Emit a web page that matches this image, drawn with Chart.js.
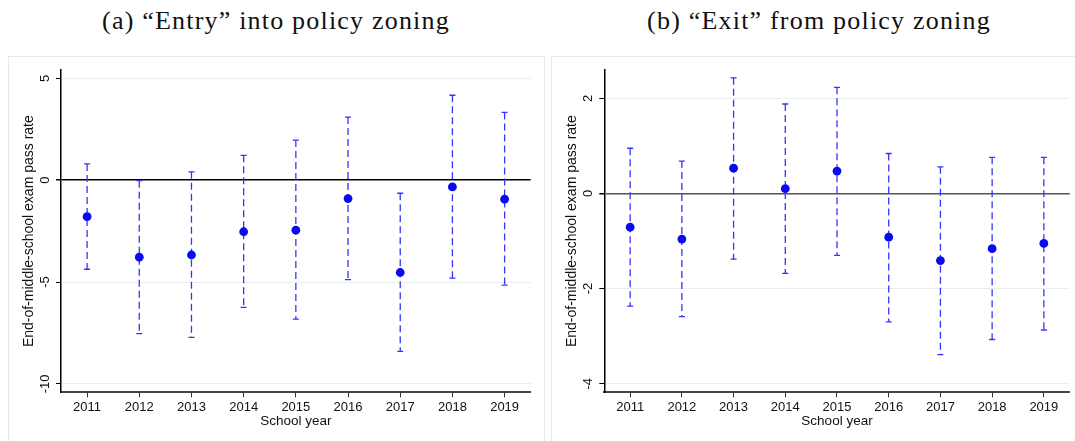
<!DOCTYPE html>
<html>
<head>
<meta charset="utf-8">
<script src="https://cdn.jsdelivr.net/npm/chart.js@4.4.0/dist/chart.umd.min.js"></script>
<style>
    body { margin: 0; background: #fff; width: 1075px; height: 441px; overflow: hidden; position: relative; }
    .caption { position: absolute; top: 6px; font-family: "Liberation Serif", serif; font-size: 26px; letter-spacing: 1.2px; color: #111; white-space: nowrap; transform: translateX(-50%); }
    .frame { position: absolute; top: 56px; height: 390px; border: 1.5px solid #e4ebed; box-sizing: border-box; }
    .holder { position: absolute; top: 56px; height: 385px; }
</style>
</head>
<body>
<div class="caption" style="left:276px">(a) “Entry” into policy zoning</div>
<div class="caption" style="left:819px">(b) “Exit” from policy zoning</div>

<div class="frame" style="left:8px;width:537px"></div>
<div class="frame" style="left:551px;width:540px"></div>

<div class="holder" style="left:8px;width:536px"><canvas id="entry"></canvas></div>
<div class="holder" style="left:552px;width:523px"><canvas id="exit"></canvas></div>

<script>
// DATA
const years = [2011, 2012, 2013, 2014, 2015, 2016, 2017, 2018, 2019];

const entryEst = [-1.79, -3.78, -3.67, -2.53, -2.45, -0.90, -4.53, -0.33, -0.93];
const entryLo  = [-4.37, -7.53, -7.71, -6.24, -6.82, -4.88, -8.40, -4.81, -5.15];
const entryHi  = [ 0.80, -0.02,  0.41,  1.22,  1.97,  3.10, -0.64,  4.17,  3.33];
const entryTicks = [-10, -5, 0, 5];

const exitEst = [-0.71, -0.96, 0.53, 0.10, 0.47, -0.92, -1.41, -1.16, -1.05];
const exitLo  = [-2.37, -2.59, -1.38, -1.68, -1.30, -2.70, -3.39, -3.07, -2.87];
const exitHi  = [ 0.95,  0.68,  2.43,  1.88,  2.23,  0.84,  0.56,  0.76,  0.76];
const exitTicks = [-4, -2, 0, 2];

const yTitle = 'End-of-middle-school exam pass rate';
const xTitle = 'School year';

// STYLE
const pointBlue = '#0a0af2';
const barBlue = '#3434ff';
const sans = 'Liberation Sans';

function makeChart(canvasId, est, lo, hi, yTicks, cfg) {
    // error bars: hi -> lo for each year, gap (null) between years
    const bars = [];
    years.forEach((yr, i) => {
        bars.push({ x: yr, y: hi[i] });
        bars.push({ x: yr, y: lo[i] });
        bars.push({ x: yr, y: null });
    });

    return new Chart(document.getElementById(canvasId), {
        type: 'scatter',
        data: {
            datasets: [
                {
                    label: 'estimate',
                    data: years.map((yr, i) => ({ x: yr, y: est[i] })),
                    pointRadius: 4.4,
                    pointBackgroundColor: pointBlue,
                    pointBorderColor: pointBlue,
                    pointBorderWidth: 0,
                    order: 0
                },
                {
                    label: 'ci',
                    data: bars,
                    showLine: true,
                    spanGaps: false,
                    borderColor: barBlue,
                    borderWidth: 1.3,
                    borderDash: [7, 4],
                    pointStyle: 'line',
                    pointRadius: 3,
                    pointBorderColor: barBlue,
                    pointBorderWidth: 1.3,
                    order: 1
                }
            ]
        },
        options: {
            responsive: true,
            maintainAspectRatio: false,
            animation: false,
            events: [],
            layout: { padding: { top: 14, right: cfg.padRight, left: 0, bottom: 0 } },
            plugins: { legend: { display: false }, tooltip: { enabled: false } },
            scales: {
                x: {
                    type: 'linear',
                    min: 2010.5,
                    max: 2019.5,
                    afterBuildTicks: s => { s.ticks = years.map(v => ({ value: v })); },
                    afterFit: s => { s.height = 48.7; },
                    grid: { drawOnChartArea: false, drawTicks: true, tickLength: 5, tickColor: '#333', tickWidth: 1 },
                    border: { color: '#444', width: 2 },
                    ticks: {
                        callback: v => String(v),
                        color: '#111',
                        font: { family: sans, size: 13 },
                        padding: 2,
                        maxRotation: 0,
                        autoSkip: false
                    },
                    title: {
                        display: true,
                        text: xTitle,
                        color: '#111',
                        font: { family: sans, size: 13.5 },
                        padding: { top: 0, bottom: 11.5 }
                    }
                },
                y: {
                    min: cfg.yMin,
                    max: cfg.yMax,
                    afterBuildTicks: s => { s.ticks = yTicks.map(v => ({ value: v })); },
                    afterFit: s => { s.width = cfg.yWidth; },
                    grid: {
                        color: c => (c.tick && c.tick.value === 0) ? cfg.zeroColor : '#e6eef0',
                        lineWidth: c => (c.tick && c.tick.value === 0) ? 1.5 : 1,
                        tickColor: '#000',
                        tickLength: 5
                    },
                    border: { color: '#000', width: 1.5 },
                    ticks: {
                        minRotation: 90,
                        maxRotation: 90,
                        crossAlign: 'center',
                        color: '#111',
                        font: { family: sans, size: 13 },
                        padding: cfg.tickPad
                    },
                    title: {
                        display: true,
                        text: yTitle,
                        color: '#111',
                        font: { family: sans, size: 14 },
                        padding: { top: cfg.titlePad, bottom: 0 }
                    }
                }
            }
        }
    });
}

makeChart('entry', entryEst, entryLo, entryHi, entryTicks, {
    yMin: -10.41, yMax: 5.41, yWidth: 53, padRight: 13.3,
    tickPad: 1.6, titlePad: 12.6, zeroColor: '#000'
});

makeChart('exit', exitEst, exitLo, exitHi, exitTicks, {
    yMin: -4.18, yMax: 2.595, yWidth: 52.3, padRight: 1.7,
    tickPad: 5.2, titlePad: 12.2, zeroColor: '#555'
});
</script>
</body>
</html>
